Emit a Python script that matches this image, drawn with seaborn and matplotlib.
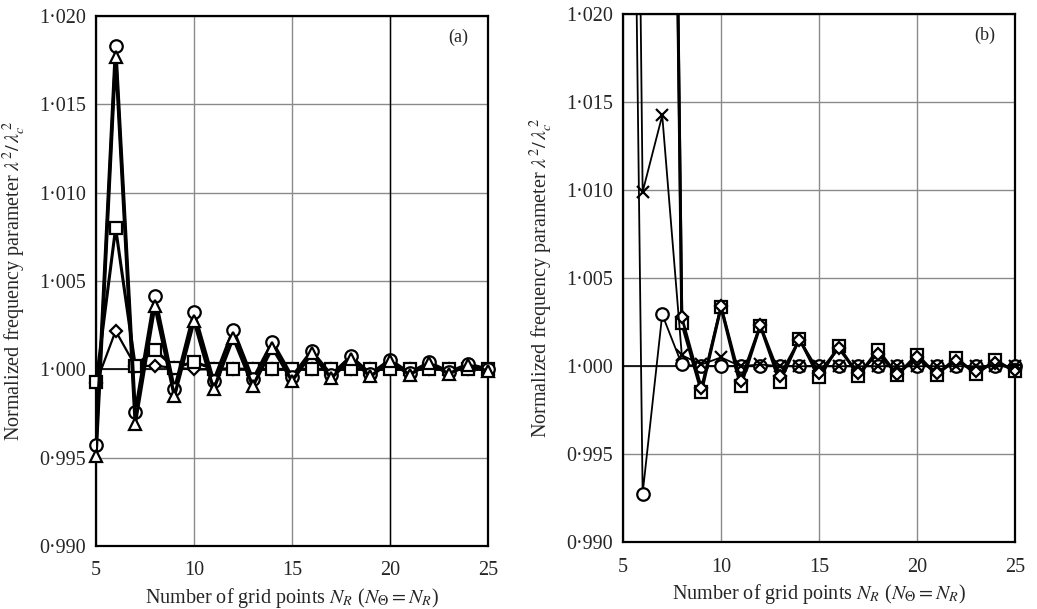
import numpy as np
import pandas as pd
import seaborn as sns
import matplotlib
matplotlib.use("Agg")
import matplotlib.pyplot as plt
from matplotlib.ticker import FuncFormatter

# ---------------- data ----------------
N = list(range(5, 26))

a_circle = [0.99574, 1.0183, 0.99756, 1.00415, 0.99886, 1.00322, 0.99934, 1.00224, 0.99943,
            1.00155, 0.99958, 1.00104, 0.99968, 1.00073, 0.99975, 1.00053, 0.99980, 1.00040,
            0.99985, 1.00030, 1.00000]
a_triangle = [0.99510, 1.0177, 0.99693, 1.00360, 0.99848, 1.00275, 0.99886, 1.00180, 0.99905,
              1.00123, 0.99934, 1.00090, 0.99950, 1.00060, 0.99960, 1.00045, 0.99970, 1.00035,
              0.99975, 1.00025, 0.99990]
a_square = [0.99928, 1.00800, 1.00020, 1.00110, 1.00010, 1.00042, 1.00003, 1.00002, 1.00000,
            1.00000, 1.00000, 1.00000, 1.00000, 1.00000, 1.00000, 1.00000, 1.00000, 1.00000,
            1.00000, 1.00000, 1.00000]
a_diamond = [0.99920, 1.00218, 1.00020, 1.00019, 1.00010, 1.00000, 1.00000, 1.00000, 1.00000,
             1.00000, 1.00000, 1.00000, 1.00000, 1.00000, 1.00000, 1.00000, 1.00000, 1.00000,
             1.00000, 1.00000, 1.00000]

b_cross = [1.11000, 1.00990, 1.01424, 1.00062, 1.00010, 1.00050, 1.00000, 1.00010, 1.00000,
           1.00000, 1.00000, 1.00000, 1.00000, 1.00000, 1.00000, 1.00000, 1.00000, 1.00000,
           1.00000, 1.00000, 1.00000]
b_circle = [1.08300, 0.99277, 1.00294, 1.00010, 1.00000, 1.00000, 1.00000, 1.00000, 1.00000,
            1.00000, 1.00000, 1.00000, 1.00000, 1.00000, 1.00000, 1.00000, 1.00000, 1.00000,
            1.00000, 1.00000, 1.00000]
b_diamond = [1.25000, 1.15000, 1.09300, 1.00277, 0.99874, 1.00340, 0.99917, 1.00232, 0.99945,
             1.00150, 0.99964, 1.00101, 0.99960, 1.00070, 0.99955, 1.00050, 0.99960, 1.00030,
             0.99970, 1.00020, 0.99980]
b_square = [1.25000, 1.15000, 1.09300, 1.00243, 0.99855, 1.00337, 0.99885, 1.00230, 0.99911,
            1.00156, 0.99936, 1.00115, 0.99945, 1.00092, 0.99950, 1.00066, 0.99950, 1.00047,
            0.99955, 1.00034, 0.99970]

x_ticks = [5, 10, 15, 20, 25]
y_ticks = [0.990, 0.995, 1.000, 1.005, 1.010, 1.015, 1.020]
panel_labels = ["(a)", "(b)"]
xlabel = r"Number of grid points $N_R$ ($N_{\mathit{\Theta}} = N_R$)"
ylabel = r"Normalized frequency parameter $\lambda^2/\,\lambda_c^{\,2}$"

# ---------------- style ----------------
sns.set_style("white")
plt.rcParams["font.family"] = ["Liberation Serif", "DejaVu Serif"]
plt.rcParams["mathtext.fontset"] = "stix"

fig = plt.figure(figsize=(10.37, 6.09), dpi=100)
ax_a = fig.add_axes([0.0926, 0.1034, 0.3780, 0.8703])
ax_b = fig.add_axes([0.6008, 0.1095, 0.3780, 0.8675])

YMIN, YMAX = 0.990, 1.020

def draw(ax, x, y, marker, lw, ms, z):
    df = pd.DataFrame({"N": x, "v": y})
    # connecting line (clipped to the axes)
    sns.lineplot(data=df, x="N", y="v", ax=ax, color="black", linewidth=lw,
                 zorder=z, estimator=None, sort=False)
    # markers for the in-range points, allowed to overhang the frame
    inr = df[(df["v"] >= YMIN) & (df["v"] <= YMAX)]
    lines = ax.plot(inr["N"], inr["v"], linestyle="none", marker=marker,
                    markersize=ms, markerfacecolor="white", markeredgecolor="black",
                    markeredgewidth=1.6, zorder=z + 0.5)
    for l in lines:
        l.set_clip_on(False)

# panel (a)
draw(ax_a, N, a_diamond, "D", 1.6, 6, 3)
draw(ax_a, N, a_square, "s", 2.2, 8, 4)
draw(ax_a, N, a_circle, "o", 2.4, 9, 5)
draw(ax_a, N, a_triangle, "^", 2.4, 8, 6)

# panel (b)
draw(ax_b, N, b_circle, "o", 1.3, 9, 3)
draw(ax_b, N, b_square, "s", 2.2, 9, 4)
draw(ax_b, N, b_diamond, "D", 2.0, 6, 5)
draw(ax_b, N, b_cross, "x", 1.3, 9, 6)

fmt = FuncFormatter(lambda v, p: f"{v:.3f}".replace(".", "\u00b7"))
for ax, lab in zip([ax_a, ax_b], panel_labels):
    ax.set_xlim(5, 25)
    ax.set_ylim(YMIN, YMAX)
    ax.set_xticks(x_ticks)
    ax.set_yticks(y_ticks)
    ax.yaxis.set_major_formatter(fmt)
    ax.tick_params(axis="y", length=0, labelsize=14.5, pad=7)
    ax.tick_params(axis="x", length=0, labelsize=14.5, pad=11)
    ax.grid(True, color="#8a8a8a", linewidth=1.0, zorder=0)
    ax.set_axisbelow(True)
    ax.axhline(1.000, color="black", linewidth=1.2, zorder=1)
    for s in ax.spines.values():
        s.set_color("black")
        s.set_linewidth(1.6)
    ax.set_xlabel(xlabel, fontsize=14.5, labelpad=4)
    ax.set_ylabel(ylabel, fontsize=14.5, labelpad=8)
    ax.text(0.923, 0.96, lab, transform=ax.transAxes, fontsize=13,
            ha="center", va="center")

ax_a.axvline(20, color="black", linewidth=1.0, zorder=1)

fig.savefig("out.png", dpi=100)
